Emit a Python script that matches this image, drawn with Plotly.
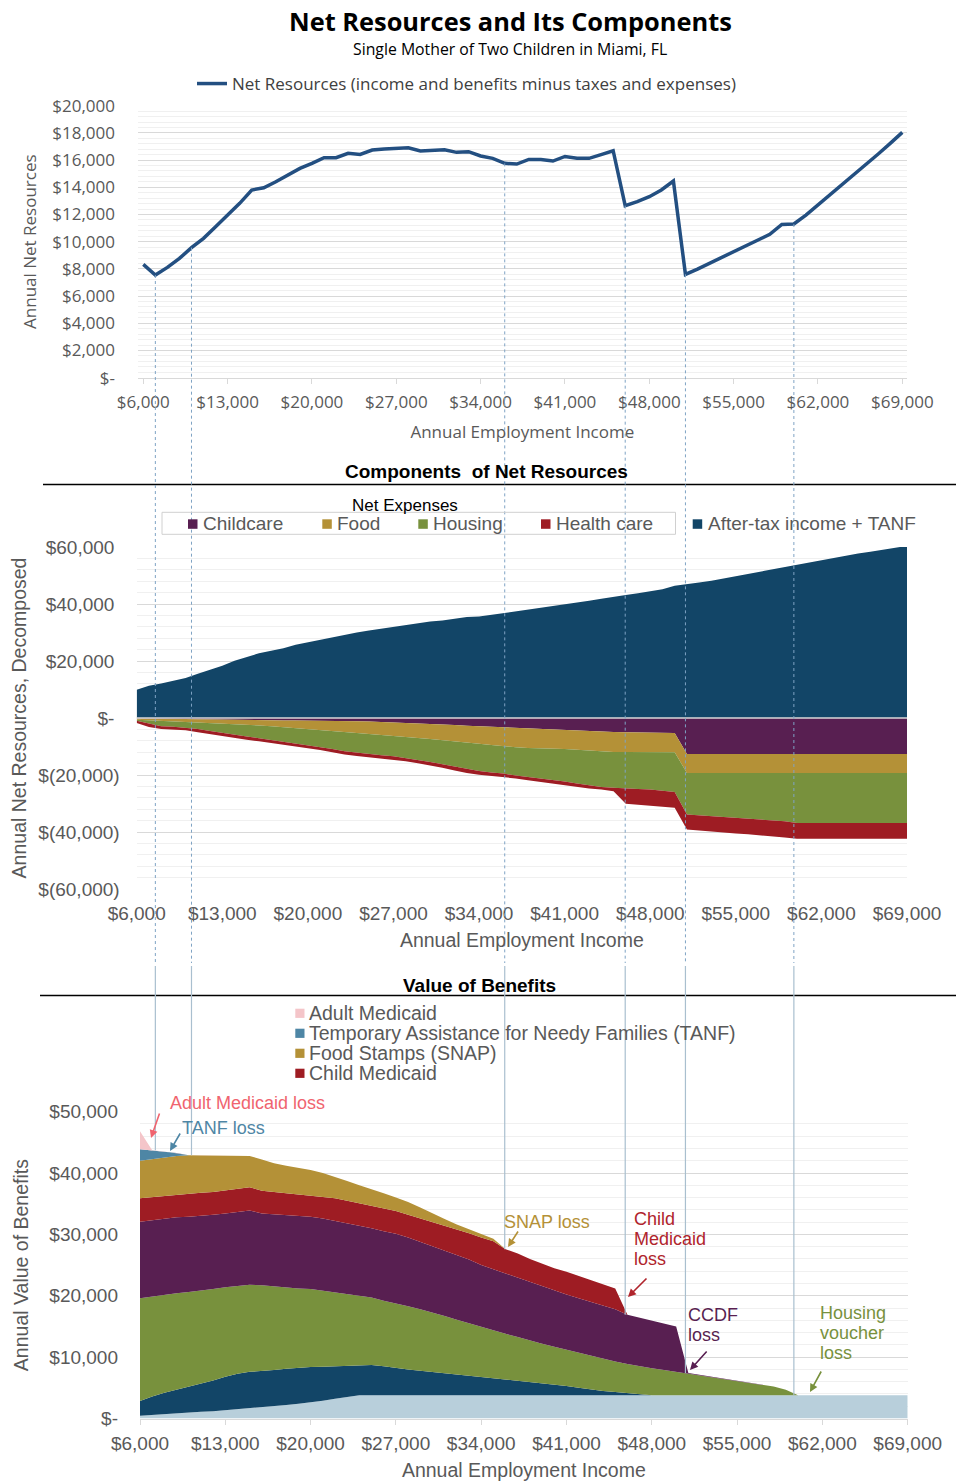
import plotly.graph_objects as go

W, H = 956, 1481

# ---------------- data ----------------
income = [
    6000, 7000, 8000, 9000, 10000, 11000, 12000, 13000,
    14000, 15000, 16000, 17000, 18000, 19000, 20000, 21000,
    22000, 23000, 24000, 25000, 26000, 27000, 28000, 29000,
    30000, 31000, 32000, 33000, 34000, 35000, 36000, 37000,
    38000, 39000, 40000, 41000, 42000, 43000, 44000, 45000,
    46000, 47000, 48000, 49000, 50000, 51000, 52000, 53000,
    54000, 55000, 56000, 57000, 58000, 59000, 60000, 61000,
    62000, 63000, 64000, 65000, 66000, 67000, 68000, 69000,
]

net_resources = [
    8330, 7550, 8110, 8770, 9560, 10250, 11100, 11960,
    12820, 13800, 13970, 14410, 14900, 15390, 15760, 16180,
    16180, 16500, 16420, 16740, 16810, 16860, 16910, 16670,
    16720, 16760, 16570, 16620, 16300, 16130, 15760, 15710,
    16050, 16050, 15930, 16270, 16130, 16130, 16400, 16690,
    12650, 12940, 13310, 13800, 14460, 7600, 7990, 8410,
    8820, 9310, 9710, 10120, 10540, 11270, 11300, 11960,
    12700, 13430, 14170, 14900, 15640, 16450, 17230, 18040,
]

after_tax_tanf = [
    9900, 11300, 12100, 13000, 14000, 15500, 16900, 18300,
    20100, 21500, 22700, 23600, 24500, 25700, 26600, 27400,
    28300, 29100, 30000, 30700, 31300, 31900, 32600, 33300,
    33900, 34200, 34800, 35400, 35600, 36200, 36800, 37400,
    37900, 38500, 39100, 39700, 40300, 41100, 41800, 42600,
    43200, 43800, 44400, 45200, 46400, 46900, 47500, 48200,
    49000, 49700, 50400, 51400, 52200, 53000, 53800, 54600,
    55300, 56200, 57000, 57700, 58300, 59000, 59900, 60400,
]

childcare_exp = [
    200, 300, 300, 350, 350, 400, 500, 600,
    650, 700, 750, 800, 850, 900, 900, 950,
    1000, 1000, 1100, 1200, 1350, 1500, 1650, 1800,
    2000, 2200, 2450, 2700, 2900, 3050, 3200, 3500,
    3700, 3900, 4100, 4300, 4500, 4650, 4800, 4900,
    5000, 5100, 5150, 5200, 5300, 12600, 12600, 12600,
    12600, 12600, 12600, 12600, 12600, 12600, 12600, 12600,
    12600, 12600, 12600, 12600, 12600, 12600, 12600, 12600,
]

food_exp = [
    400, 500, 700, 800, 950, 1050, 1100, 1150,
    1400, 1650, 1850, 2100, 2350, 2650, 3000, 3250,
    3550, 3900, 4150, 4400, 4550, 4700, 4950, 5200,
    5400, 5550, 5650, 5800, 6100, 6400, 6700, 6800,
    6800, 6650, 6500, 6550, 6600, 6750, 6900, 7000,
    6900, 6850, 6850, 6800, 6700, 6700, 6700, 6700,
    6700, 6700, 6700, 6700, 6700, 6700, 6700, 6700,
    6700, 6700, 6700, 6700, 6700, 6700, 6700, 6700,
]

housing_exp = [
    400, 1200, 1900, 1950, 2100, 2450, 3000, 3550,
    3850, 4150, 4500, 4800, 5100, 5350, 5700, 6000,
    6350, 6800, 6950, 7100, 7200, 7200, 7400, 7700,
    8000, 8450, 8900, 9400, 9600, 9650, 9600, 9900,
    10200, 10650, 11000, 11450, 11900, 12300, 12500, 12600,
    12900, 12950, 13100, 13500, 14000, 14600, 14900, 15200,
    15500, 15700, 16000, 16300, 16600, 16900, 17500, 17500,
    17500, 17500, 17500, 17500, 17500, 17500, 17500, 17500,
]

health_exp = [
    750, 1200, 1000, 1000, 900, 1100, 1100, 1100,
    1100, 1100, 1100, 1100, 1100, 1000, 900, 1000,
    1100, 1100, 1100, 1100, 1100, 1200, 1200, 1200,
    1200, 1300, 1400, 1400, 1300, 1200, 1200, 1000,
    1100, 1200, 1400, 1400, 1300, 1000, 900, 1200,
    5300, 5500, 5600, 5600, 5500, 5200, 5300, 5300,
    5300, 5500, 5500, 5500, 5600, 5700, 5600, 5600,
    5600, 5600, 5600, 5600, 5600, 5600, 5600, 5600,
]

# benefits (bottom chart), stacked from the bottom up
child_tax_credit = [
    450, 600, 750, 900, 1000, 1100, 1200, 1350,
    1500, 1650, 1800, 2000, 2200, 2400, 2600, 2900,
    3200, 3500, 3800, 3800, 3800, 3800, 3800, 3800,
    3800, 3800, 3800, 3800, 3800, 3800, 3800, 3800,
    3800, 3800, 3800, 3800, 3800, 3800, 3800, 3800,
    3800, 3800, 3800, 3800, 3800, 3800, 3800, 3800,
    3800, 3800, 3800, 3800, 3800, 3800, 3800, 3800,
    3800, 3800, 3800, 3800, 3800, 3800, 3800, 3800,
]

eitc = [
    2400, 3000, 3450, 3800, 4200, 4500, 5000, 5450,
    5800, 5950, 5900, 5900, 5900, 5900, 5800, 5550,
    5300, 5100, 4900, 4900, 4700, 4400, 4200, 4000,
    3800, 3600, 3400, 3200, 3000, 2800, 2600, 2400,
    2200, 2000, 1800, 1500, 1200, 900, 700, 500,
    300, 100, 0, 0, 0, 0, 0, 0,
    0, 0, 0, 0, 0, 0, 0, 0,
    0, 0, 0, 0, 0, 0, 0, 0,
]

housing_voucher = [
    16750, 16300, 16000, 15700, 15400, 15200, 14900, 14600,
    14350, 14200, 14000, 13600, 13250, 12900, 12700, 12350,
    12000, 11600, 11200, 11000, 10700, 10600, 10300, 10000,
    9700, 9300, 8900, 8500, 8100, 7700, 7400, 7100,
    6700, 6400, 6100, 5900, 5700, 5500, 5300, 5000,
    4800, 4600, 4400, 4100, 3800, 3600, 3300, 3000,
    2700, 2400, 2100, 1800, 1400, 900, 0, 0,
    0, 0, 0, 0, 0, 0, 0, 0,
]

ccdf = [
    12450, 12400, 12400, 12400, 12300, 12200, 12100, 12000,
    12050, 12100, 11700, 11800, 11750, 11800, 11800, 11800,
    11700, 11700, 11500, 11300, 11300, 11300, 11200, 11000,
    10800, 10600, 10500, 10400, 10100, 10000, 9900, 9700,
    9600, 9300, 9100, 9000, 8900, 8800, 8600, 8500,
    8000, 7900, 7700, 7600, 7400, 0, 0, 0,
    0, 0, 0, 0, 0, 0, 0, 0,
    0, 0, 0, 0, 0, 0, 0, 0,
]

child_medicaid = [
    3850, 3800, 3700, 3700, 3800, 3800, 3700, 3800,
    3800, 3800, 3700, 3600, 3600, 3600, 3500, 3600,
    3700, 3600, 3700, 3700, 3800, 3700, 3700, 3800,
    4000, 4100, 4200, 4300, 4500, 4600, 3900, 3900,
    3700, 3700, 3700, 3700, 3600, 3500, 3400, 3400,
    0, 0, 0, 0, 0, 0, 0, 0,
    0, 0, 0, 0, 0, 0, 0, 0,
    0, 0, 0, 0, 0, 0, 0, 0,
]

snap = [
    6100, 6200, 6300, 6300, 6200, 6100, 6000, 5700,
    5400, 5100, 5100, 4700, 4500, 4300, 4100, 3800,
    3500, 3200, 2900, 2700, 2400, 2200, 2100, 1800,
    1300, 1100, 800, 600, 500, 400, 0, 0,
    0, 0, 0, 0, 0, 0, 0, 0,
    0, 0, 0, 0, 0, 0, 0, 0,
    0, 0, 0, 0, 0, 0, 0, 0,
    0, 0, 0, 0, 0, 0, 0, 0,
]

tanf = [
    1900, 1400, 900, 450, 0, 0, 0, 0,
    0, 0, 0, 0, 0, 0, 0, 0,
    0, 0, 0, 0, 0, 0, 0, 0,
    0, 0, 0, 0, 0, 0, 0, 0,
    0, 0, 0, 0, 0, 0, 0, 0,
    0, 0, 0, 0, 0, 0, 0, 0,
    0, 0, 0, 0, 0, 0, 0, 0,
    0, 0, 0, 0, 0, 0, 0, 0,
]

adult_medicaid = [
    2900, 0, 0, 0, 0, 0, 0, 0,
    0, 0, 0, 0, 0, 0, 0, 0,
    0, 0, 0, 0, 0, 0, 0, 0,
    0, 0, 0, 0, 0, 0, 0, 0,
    0, 0, 0, 0, 0, 0, 0, 0,
    0, 0, 0, 0, 0, 0, 0, 0,
    0, 0, 0, 0, 0, 0, 0, 0,
    0, 0, 0, 0, 0, 0, 0, 0,
]

x_tickvals = [6000, 13000, 20000, 27000, 34000, 41000, 48000, 55000, 62000, 69000]
x_ticktext = ["$6,000", "$13,000", "$20,000", "$27,000", "$34,000",
              "$41,000", "$48,000", "$55,000", "$62,000", "$69,000"]
top_yvals = [0, 2000, 4000, 6000, 8000, 10000, 12000, 14000, 16000, 18000, 20000]
top_ytext = ["$-", "$2,000", "$4,000", "$6,000", "$8,000", "$10,000",
             "$12,000", "$14,000", "$16,000", "$18,000", "$20,000"]
mid_yvals = [-60000, -40000, -20000, 0, 20000, 40000, 60000]
mid_ytext = ["$(60,000)", "$(40,000)", "$(20,000)", "$-\u00a0",
             "$20,000\u00a0", "$40,000\u00a0", "$60,000\u00a0"]
bot_yvals = [0, 10000, 20000, 30000, 40000, 50000]
bot_ytext = ["$-", "$10,000", "$20,000", "$30,000", "$40,000", "$50,000"]

event_incomes = [7000, 10000, 36000, 46000, 51000, 60000]

# ---------------- styling ----------------
SEGOE = "Segoe UI, Open Sans, sans-serif"
ARIAL = "Arial, Liberation Sans, sans-serif"
GRAY = "#595959"
NAVY = "#124567"
PURPLE = "#581f51"
GOLD = "#b49137"
GREEN = "#78913d"
RED = "#9e1c23"
LIGHTBLUE = "#b8cfdb"
STEEL = "#4e86a5"
PINK = "#f4c5c9"
LINECOL = "#234f81"
GRID = "#d9d9d9"
MINOR = "#f0f0f0"


def px(p):
    return p / W


def py(p):
    return 1 - p / H


top_dom_x = [px(138), px(906.7)]
top_dom_y = [py(377.7), py(105.7)]
mid_dom_x = [px(136.7), px(907)]
mid_dom_y = [py(889), py(547)]
bot_dom_x = [px(140), px(907.7)]
bot_dom_y = [py(1418.5), py(1111.7)]

top_rx = [5560, 69365]
top_ry = [0, 20000]
mid_rx = [6000, 69000]
mid_ry = [-60000, 60000]
bot_rx = [6000, 69000]
bot_ry = [0, 50000]


def to_paper(v, dom, rng):
    return dom[0] + (v - rng[0]) / (rng[1] - rng[0]) * (dom[1] - dom[0])


fig = go.Figure()

# top line chart
fig.add_trace(go.Scatter(
    x=income, y=net_resources, mode="lines",
    line=dict(color=LINECOL, width=3.5),
    name="Net Resources (income and benefits minus taxes and expenses)",
    xaxis="x", yaxis="y", legend="legend", hoverinfo="skip"))

# middle: after-tax income (positive)
fig.add_trace(go.Scatter(
    x=income, y=after_tax_tanf, mode="lines", fill="tozeroy",
    line=dict(width=0, color=NAVY), fillcolor=NAVY,
    name="After-tax income + TANF", xaxis="x2", yaxis="y2",
    showlegend=False, hoverinfo="skip"))

# middle: expenses (negative, stacked)
for name, vals, col in [("Childcare", childcare_exp, PURPLE),
                        ("Food", food_exp, GOLD),
                        ("Housing", housing_exp, GREEN),
                        ("Health care", health_exp, RED)]:
    fig.add_trace(go.Scatter(
        x=income, y=[-v for v in vals], mode="lines", stackgroup="exp",
        line=dict(width=0, color=col), fillcolor=col, name=name,
        xaxis="x2", yaxis="y2", showlegend=False, hoverinfo="skip"))

# bottom: benefits stacked
benefits = [("Child Tax Credit", child_tax_credit, LIGHTBLUE),
            ("EITC", eitc, NAVY),
            ("Housing voucher", housing_voucher, GREEN),
            ("CCDF", ccdf, PURPLE),
            ("Child Medicaid", child_medicaid, RED),
            ("Food Stamps (SNAP)", snap, GOLD),
            ("Temporary Assistance for Needy Families (TANF)", tanf, STEEL),
            ("Adult Medicaid", adult_medicaid, PINK)]
for name, vals, col in benefits:
    fig.add_trace(go.Scatter(
        x=income, y=vals, mode="lines", stackgroup="ben",
        line=dict(width=0, color=col), fillcolor=col, name=name,
        xaxis="x3", yaxis="y3", showlegend=False, hoverinfo="skip"))

axis_common = dict(showline=True, linecolor=GRID, linewidth=1, zeroline=False, automargin=False)

fig.update_layout(
    width=W, height=H,
    margin=dict(l=0, r=0, t=0, b=0, pad=0, autoexpand=False),
    paper_bgcolor="white", plot_bgcolor="white",
    showlegend=True,
    legend=dict(x=px(192), y=py(84), xanchor="left", yanchor="middle",
                orientation="h", bgcolor="rgba(0,0,0,0)",
                font=dict(family=SEGOE, size=17, color="#404040")),
    xaxis=dict(domain=top_dom_x, anchor="y", range=top_rx,
               tickmode="array", tickvals=x_tickvals, ticktext=x_ticktext,
               ticks="outside", ticklen=5, tickcolor=GRID, showgrid=False,
               tickfont=dict(family=SEGOE, size=17, color=GRAY),
               ticklabelstandoff=4,
               title=dict(text="Annual Employment Income", standoff=14,
                          font=dict(family=SEGOE, size=17, color=GRAY)),
               **axis_common),
    yaxis=dict(domain=top_dom_y, anchor="x", range=top_ry, automargin=False,
               tickmode="array", tickvals=top_yvals, ticktext=top_ytext,
               showgrid=True, gridcolor=GRID, showline=False, zeroline=False,
               minor=dict(dtick=400, tick0=0, showgrid=True, gridcolor=MINOR),
               tickfont=dict(family=SEGOE, size=17, color=GRAY),
               ticklabelstandoff=22,
               title=dict(text="Annual Net Resources", standoff=11,
                          font=dict(family=SEGOE, size=17, color=GRAY))),
    xaxis2=dict(domain=mid_dom_x, anchor="y2", range=mid_rx, automargin=False,
                tickmode="array", tickvals=x_tickvals, ticktext=x_ticktext,
                showgrid=False, showline=False, zeroline=False, ticks="",
                tickfont=dict(family=ARIAL, size=19, color=GRAY),
                ticklabelstandoff=11,
                title=dict(text="Annual Employment Income", standoff=10,
                           font=dict(family=ARIAL, size=19.5, color=GRAY))),
    yaxis2=dict(domain=mid_dom_y, anchor="x2", range=mid_ry, automargin=False,
                tickmode="array", tickvals=mid_yvals, ticktext=mid_ytext,
                showgrid=True, gridcolor=GRID, showline=False, zeroline=False,
                minor=dict(dtick=4000, tick0=0, showgrid=True, gridcolor=MINOR),
                tickfont=dict(family=ARIAL, size=19, color=GRAY),
                ticklabelstandoff=16,
                title=dict(text="Annual Net Resources, Decomposed", standoff=6,
                           font=dict(family=ARIAL, size=19.5, color=GRAY))),
    xaxis3=dict(domain=bot_dom_x, anchor="y3", range=bot_rx,
                tickmode="array", tickvals=x_tickvals, ticktext=x_ticktext,
                ticks="outside", ticklen=5, tickcolor=GRID, showgrid=False,
                tickfont=dict(family=ARIAL, size=19, color=GRAY),
                ticklabelstandoff=3,
                title=dict(text="Annual Employment Income", standoff=10,
                           font=dict(family=ARIAL, size=19.5, color=GRAY)),
                **axis_common),
    yaxis3=dict(domain=bot_dom_y, anchor="x3", range=bot_ry, automargin=False,
                tickmode="array", tickvals=bot_yvals, ticktext=bot_ytext,
                showgrid=True, gridcolor=GRID, showline=False, zeroline=False,
                minor=dict(dtick=2000, tick0=0, showgrid=True, gridcolor=MINOR),
                tickfont=dict(family=ARIAL, size=19, color=GRAY),
                ticklabelstandoff=21,
                title=dict(text="Annual Value of Benefits", standoff=15,
                           font=dict(family=ARIAL, size=19.5, color=GRAY))),
)

shapes = []
annotations = []

# zero line in the middle chart
shapes.append(dict(type="line", xref="x2", yref="y2", x0=mid_rx[0], x1=mid_rx[1],
                   y0=0, y1=0, line=dict(color=GRID, width=1.5), layer="above"))

# section separator lines
shapes.append(dict(type="line", xref="paper", yref="paper", x0=px(43), x1=1,
                   y0=py(484.5), y1=py(484.5), line=dict(color="black", width=1.5)))
shapes.append(dict(type="line", xref="paper", yref="paper", x0=px(40), x1=1,
                   y0=py(995.5), y1=py(995.5), line=dict(color="black", width=1.5)))

# vertical event lines linking the three panels
for inc in event_incomes:
    i = income.index(inc)
    total_benefit = sum(vals[i] for _, vals, _ in benefits)
    shapes.append(dict(type="line", xref="x", yref="paper", x0=inc, x1=inc,
                       y0=to_paper(net_resources[i], top_dom_y, top_ry), y1=py(963),
                       line=dict(color="#7fa3c4", width=1, dash="dot"), layer="above"))
    shapes.append(dict(type="line", xref="x", yref="paper", x0=inc, x1=inc,
                       y0=py(966), y1=to_paper(total_benefit, bot_dom_y, bot_ry),
                       line=dict(color="#a9bfcf", width=1.2), layer="above"))

# titles
annotations.append(dict(text="<b>Net Resources and Its Components</b>", x=px(510.5), y=py(21),
                        xref="paper", yref="paper", showarrow=False, xanchor="center", yanchor="middle",
                        font=dict(family=SEGOE, size=25.4, color="black")))
annotations.append(dict(text="Single Mother of Two Children in Miami, FL", x=px(510), y=py(49),
                        xref="paper", yref="paper", showarrow=False, xanchor="center", yanchor="middle",
                        font=dict(family=SEGOE, size=15.8, color="black")))
annotations.append(dict(text="<b>Components  of Net Resources</b>", x=px(486), y=py(471),
                        xref="paper", yref="paper", showarrow=False, xanchor="center", yanchor="middle",
                        font=dict(family=ARIAL, size=19, color="black")))
annotations.append(dict(text="<b>Value of Benefits</b>", x=px(479), y=py(985),
                        xref="paper", yref="paper", showarrow=False, xanchor="center", yanchor="middle",
                        font=dict(family=ARIAL, size=19, color="black")))

# middle legend (manual)
annotations.append(dict(text="Net Expenses", x=px(404.5), y=py(505), xref="paper", yref="paper",
                        showarrow=False, xanchor="center", yanchor="middle",
                        font=dict(family=ARIAL, size=17, color="black")))
shapes.append(dict(type="rect", xref="paper", yref="paper", x0=px(162), x1=px(675.5),
                   y0=py(534.3), y1=py(512.3), line=dict(color="#d0d0d0", width=1)))
mid_legend = [("Childcare", PURPLE, 188.0, 203.0),
              ("Food", GOLD, 322.3, 336.7),
              ("Housing", GREEN, 418.3, 432.7),
              ("Health care", RED, 541.0, 555.7),
              ("After-tax income + TANF", NAVY, 692.7, 707.7)]
for label, col, sx, tx in mid_legend:
    shapes.append(dict(type="rect", xref="paper", yref="paper", x0=px(sx), x1=px(sx + 9.5),
                       y0=py(528.8), y1=py(519.3), fillcolor=col, line=dict(width=0)))
    annotations.append(dict(text=label, x=px(tx - 2), y=py(524), xref="paper", yref="paper",
                            showarrow=False, xanchor="left", yanchor="middle",
                            font=dict(family=ARIAL, size=19, color=GRAY)))

# bottom legend (manual)
bot_legend = [("Adult Medicaid", PINK, 1013.3),
              ("Temporary Assistance for Needy Families (TANF)", STEEL, 1033.3),
              ("Food Stamps (SNAP)", GOLD, 1053.3),
              ("Child Medicaid", RED, 1073.3)]
for label, col, cy in bot_legend:
    shapes.append(dict(type="rect", xref="paper", yref="paper", x0=px(295.3), x1=px(304.5),
                       y0=py(cy + 4.6), y1=py(cy - 4.6), fillcolor=col, line=dict(width=0)))
    annotations.append(dict(text=label, x=px(306.5), y=py(cy), xref="paper", yref="paper",
                            showarrow=False, xanchor="left", yanchor="middle",
                            font=dict(family=ARIAL, size=19.5, color=GRAY)))

# loss call-outs: (text lines, colour, text left px, first line centre px, arrow tail px, arrow head px)
callouts = [
    (["Adult Medicaid loss"], "#f0646f", 168, 1103, (160, 1112), (151, 1138)),
    (["TANF loss"], STEEL, 180, 1128, (181, 1132), (170, 1151)),
    (["SNAP loss"], GOLD, 502, 1222, (519, 1230), (508, 1247)),
    (["Child", "Medicaid", "loss"], "#b0242c", 632, 1219, (648, 1277), (628, 1297)),
    (["CCDF", "loss"], PURPLE, 686, 1315, (708, 1350), (690, 1370)),
    (["Housing", "voucher", "loss"], GREEN, 818, 1313, (822, 1370), (810, 1392)),
]
LINE_STEP = 20
for lines, col, tx, ty, tail, head in callouts:
    for k, line_text in enumerate(lines):
        annotations.append(dict(text=line_text, x=px(tx), y=py(ty + k * LINE_STEP),
                                xref="paper", yref="paper",
                                showarrow=False, xanchor="left", yanchor="middle", align="left",
                                font=dict(family=ARIAL, size=18, color=col)))
    annotations.append(dict(text="", x=px(head[0]), y=py(head[1]), xref="paper", yref="paper",
                            showarrow=True, ax=tail[0] - head[0], ay=tail[1] - head[1],
                            axref="pixel", ayref="pixel", arrowhead=2, arrowsize=1,
                            arrowwidth=1.6, arrowcolor=col, standoff=0, startstandoff=0))

fig.update_layout(shapes=shapes, annotations=annotations)

fig.write_html("out.html", config={"displayModeBar": False},
               post_script="document.body.style.margin='0px';")
